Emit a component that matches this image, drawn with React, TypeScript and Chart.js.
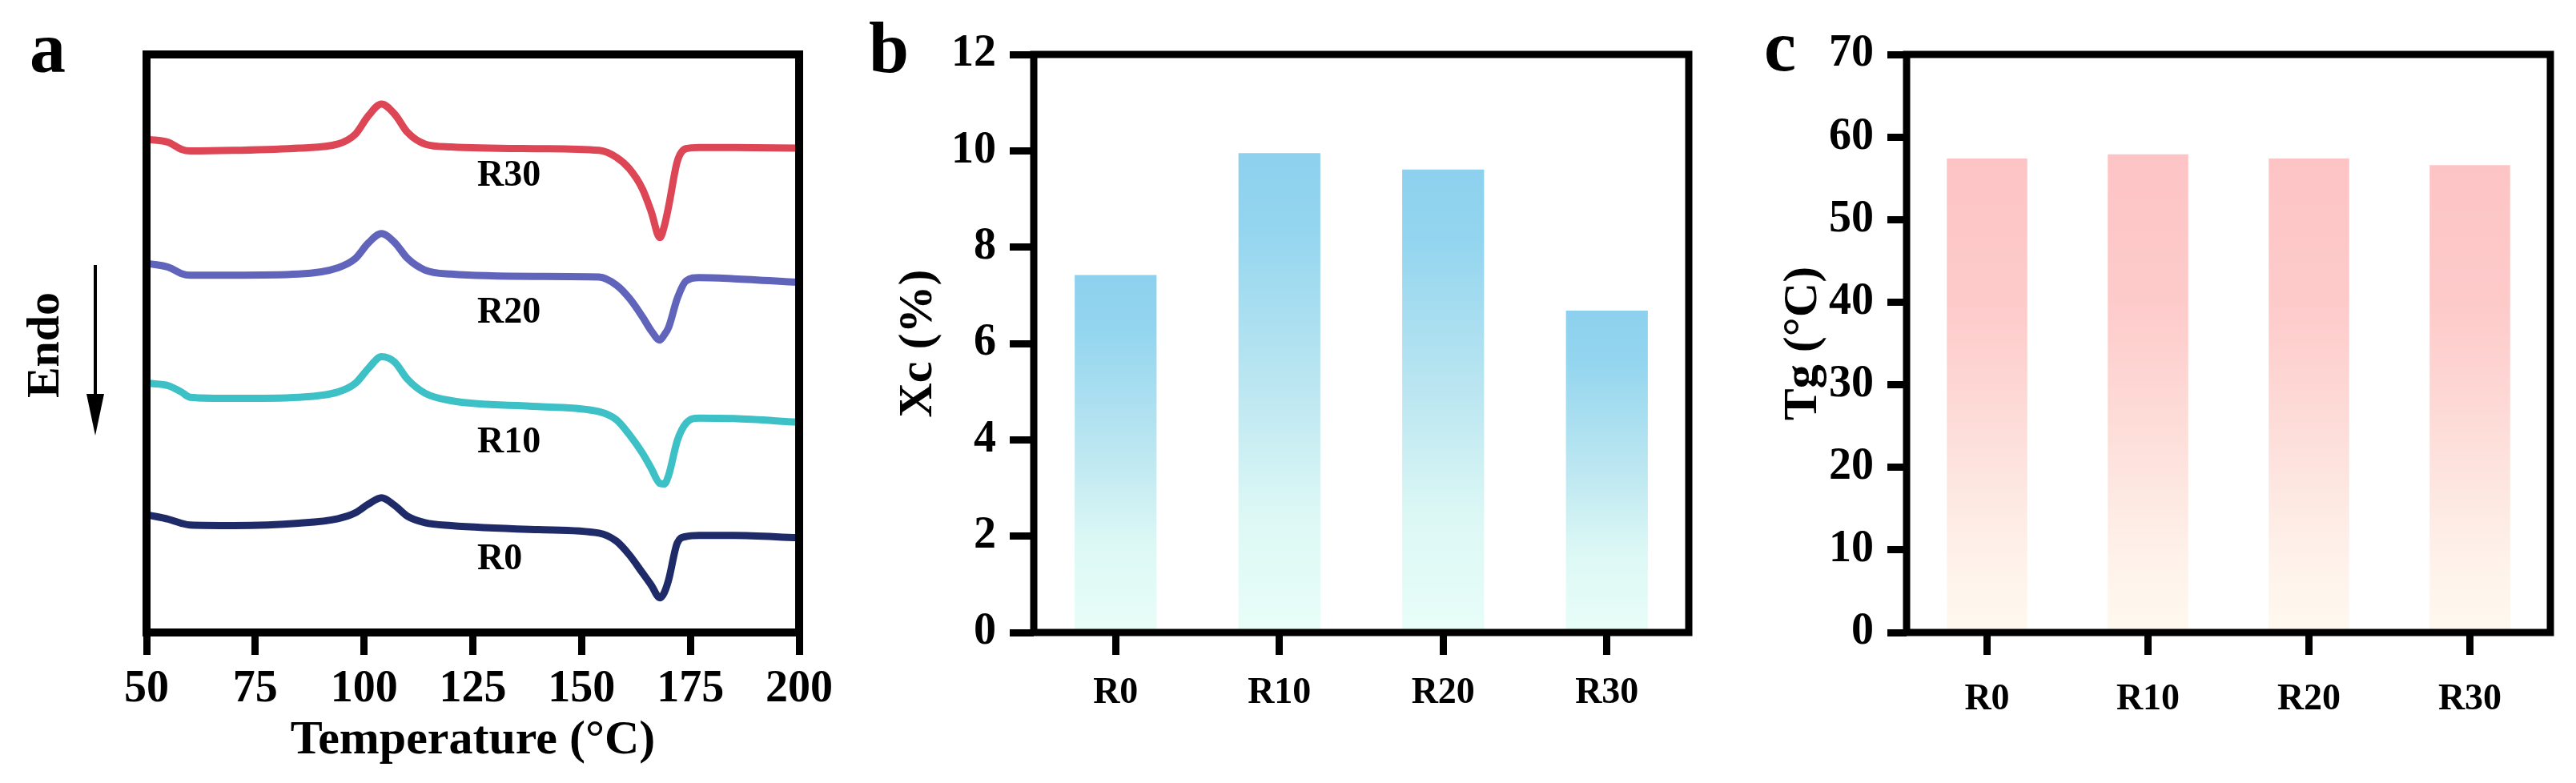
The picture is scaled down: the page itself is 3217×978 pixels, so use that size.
import React, { useEffect, useRef } from "react";
import { Chart, registerables } from "chart.js";

Chart.register(...registerables);

const FONT = '"Liberation Serif", "Times New Roman", Times, serif';

// ---------- Panel a : DSC curves ----------
const temperatures = [50.5, 55, 58, 60, 70, 85, 94, 98, 101, 104, 107, 110, 114, 120, 140, 154, 158, 161, 164, 166, 168, 169, 170, 172, 174, 177, 185, 199.5];
const heatFlowR30 = [85.3, 84.8, 83.6, 83.3, 83.4, 83.8, 84.5, 86.2, 89.4, 91.4, 89.7, 86.5, 84.5, 84.0, 83.7, 83.4, 82.2, 80.2, 76.7, 72.8, 68.3, 70.3, 73.7, 81.5, 83.7, 83.9, 83.9, 83.8];
const heatFlowR20 = [63.8, 63.2, 62.1, 61.8, 61.8, 62.0, 63.1, 64.7, 67.4, 69.0, 67.5, 64.7, 62.7, 62.0, 61.6, 61.5, 60.1, 57.8, 54.6, 52.2, 50.6, 51.5, 52.8, 57.8, 60.8, 61.4, 61.2, 60.6];
const heatFlowR10 = [43.1, 42.7, 41.6, 40.7, 40.5, 40.7, 41.6, 43.1, 45.7, 47.7, 46.8, 43.8, 41.4, 40.1, 39.1, 38.2, 36.8, 34.2, 31.0, 28.4, 25.8, 25.7, 27.2, 33.2, 36.2, 37.1, 37.0, 36.4];
const heatFlowR0 = [20.3, 19.6, 18.9, 18.6, 18.5, 18.9, 19.7, 20.7, 22.2, 23.3, 22.0, 20.1, 19.0, 18.5, 17.8, 17.2, 15.8, 13.4, 10.3, 8.2, 6.0, 6.9, 9.1, 15.5, 16.6, 16.8, 16.8, 16.4];
const curveNames = ["R30", "R20", "R10", "R0"];
const curveColors = ["#dc4655", "#6064ba", "#3dc0c6", "#1f2b68"];
const curveLabelTemp = 126;
const curveLabelLevel = [79.0, 55.2, 32.8, 12.6];
const tempMin = 50;
const tempMax = 200;
const tempStep = 25;

// ---------- Panel b : crystallinity ----------
const samples = ["R0", "R10", "R20", "R30"];
const crystallinity = [7.42, 9.95, 9.61, 6.68];
const xcMax = 12;
const xcStep = 2;

// ---------- Panel c : glass transition ----------
const glassTransition = [57.4, 57.9, 57.4, 56.6];
const tgMax = 70;
const tgStep = 10;

const blueStops: [number, string][] = [
  [0, "#8dd1ee"],
  [0.15, "#93d5ef"],
  [0.5, "#bde7f1"],
  [0.75, "#dcf8f5"],
  [1, "#e8fdf8"],
];
const pinkStops: [number, string][] = [
  [0, "#fdc4c5"],
  [0.3, "#fdcaca"],
  [0.5, "#fdd8d4"],
  [0.7, "#fde7e1"],
  [0.85, "#fef2ea"],
  [1, "#fef9ef"],
];

const framePlugin = {
  id: "frame",
  afterDraw(chart: any, _args: any, opts: any) {
    const { ctx, chartArea } = chart;
    const { left, top, right, bottom } = chartArea;
    ctx.save();
    ctx.lineWidth = opts.width || 9;
    ctx.strokeStyle = "#000";
    ctx.lineJoin = "miter";
    ctx.strokeRect(left, top, right - left, bottom - top);
    ctx.restore();
  },
};

const panelLetterPlugin = {
  id: "panelLetter",
  afterDraw(chart: any, _args: any, opts: any) {
    if (!opts || !opts.text) return;
    const { ctx } = chart;
    ctx.save();
    ctx.font = `bold ${opts.size}px ${FONT}`;
    ctx.fillStyle = "#000";
    ctx.textAlign = "left";
    ctx.textBaseline = "alphabetic";
    ctx.fillText(opts.text, opts.x, opts.y);
    ctx.restore();
  },
};

const curveLabelPlugin = {
  id: "curveLabels",
  afterDatasetsDraw(chart: any) {
    const { ctx, scales } = chart;
    ctx.save();
    ctx.font = `bold 46px ${FONT}`;
    ctx.fillStyle = "#000";
    ctx.textAlign = "left";
    ctx.textBaseline = "middle";
    curveNames.forEach((name, i) => {
      ctx.fillText(name, scales.x.getPixelForValue(curveLabelTemp), scales.y.getPixelForValue(curveLabelLevel[i]));
    });
    ctx.restore();
  },
};

const endoPlugin = {
  id: "endo",
  afterDraw(chart: any) {
    const { ctx, chartArea } = chart;
    const midY = (chartArea.top + chartArea.bottom) / 2;
    ctx.save();
    ctx.translate(58, midY + 2);
    ctx.rotate(-Math.PI / 2);
    ctx.font = `bold 58px ${FONT}`;
    ctx.fillStyle = "#000";
    ctx.textAlign = "center";
    ctx.textBaseline = "middle";
    ctx.fillText("Endo", 0, 0);
    ctx.restore();
    const ax = 119;
    const y0 = midY - 98;
    const y1 = midY + 115;
    ctx.save();
    ctx.strokeStyle = "#000";
    ctx.fillStyle = "#000";
    ctx.lineWidth = 4;
    ctx.beginPath();
    ctx.moveTo(ax, y0);
    ctx.lineTo(ax, y1 - 40);
    ctx.stroke();
    ctx.beginPath();
    ctx.moveTo(ax - 11, y1 - 52);
    ctx.lineTo(ax + 11, y1 - 52);
    ctx.lineTo(ax, y1);
    ctx.closePath();
    ctx.fill();
    ctx.restore();
  },
};

function gradientFill(stops: [number, string][]) {
  return (c: any) => {
    const chart = c.chart;
    if (c.type !== "data" || !chart.chartArea || !chart.scales.y) return stops[0][1];
    const y = chart.scales.y;
    const top = y.getPixelForValue(c.raw);
    const bottom = y.getPixelForValue(0);
    const g = chart.ctx.createLinearGradient(0, top, 0, bottom);
    stops.forEach(([o, col]) => g.addColorStop(o, col));
    return g;
  };
}

const tickFont = (size: number) => ({ family: FONT, size, weight: "bold" as const });

function makeDSC(canvas: HTMLCanvasElement) {
  const series = [heatFlowR30, heatFlowR20, heatFlowR10, heatFlowR0];
  return new Chart(canvas, {
    type: "line",
    data: {
      datasets: series.map((vals, i) => ({
        label: curveNames[i],
        data: temperatures.map((t, k) => ({ x: t, y: vals[k] })),
        borderColor: curveColors[i],
        borderWidth: 9,
        pointRadius: 0,
        fill: false,
        cubicInterpolationMode: "monotone" as const,
        borderCapStyle: "round" as const,
        borderJoinStyle: "round" as const,
      })),
    },
    options: {
      responsive: false,
      animation: false,
      layout: { padding: { left: 183, right: 45, top: 68, bottom: 0 } },
      plugins: {
        legend: { display: false },
        tooltip: { enabled: false },
        frame: { width: 10 },
        panelLetter: { text: "a", x: 37, y: 90, size: 90 },
      } as any,
      scales: {
        x: {
          type: "linear",
          min: tempMin,
          max: tempMax,
          ticks: { stepSize: tempStep, padding: 10, color: "#000", font: tickFont(56), maxRotation: 0, autoSkip: false },
          grid: { drawOnChartArea: false, tickLength: 28, tickWidth: 9, tickColor: "#000" },
          border: { display: false },
          title: {
            display: true,
            text: "Temperature (°C)",
            color: "#000",
            font: tickFont(60),
            padding: { top: 0, bottom: 17 },
          },
          afterFit: (s: any) => {
            s.height = 188;
          },
        },
        y: { min: 0, max: 100, display: false },
      },
    },
    plugins: [framePlugin, panelLetterPlugin, curveLabelPlugin, endoPlugin],
  });
}

function makeBars(
  canvas: HTMLCanvasElement,
  values: number[],
  stops: [number, string][],
  opts: { max: number; step: number; title: string; letter: string; letterX: number; letterY: number; yWidth: number; titlePad: number; rightPad: number; yTick: number; xPad: number }
) {
  return new Chart(canvas, {
    type: "bar",
    data: {
      labels: samples,
      datasets: [
        {
          data: values,
          backgroundColor: gradientFill(stops),
          barPercentage: 0.5,
          categoryPercentage: 1,
          borderWidth: 0,
        },
      ],
    },
    options: {
      responsive: false,
      animation: false,
      layout: { padding: { left: 0, right: opts.rightPad, top: 68, bottom: 0 } },
      plugins: {
        legend: { display: false },
        tooltip: { enabled: false },
        frame: { width: 9 },
        panelLetter: { text: opts.letter, x: opts.letterX, y: opts.letterY, size: 90 },
      } as any,
      scales: {
        x: {
          grid: { offset: false, drawOnChartArea: false, tickLength: 28, tickWidth: 9, tickColor: "#000" },
          border: { display: false },
          ticks: { padding: opts.xPad, color: "#000", font: tickFont(46), maxRotation: 0 },
          afterFit: (s: any) => {
            s.height = 188;
          },
        },
        y: {
          min: 0,
          max: opts.max,
          ticks: { stepSize: opts.step, padding: 17, color: "#000", font: tickFont(56) },
          grid: { drawOnChartArea: false, tickLength: opts.yTick, tickWidth: 9, tickColor: "#000" },
          border: { display: false },
          title: {
            display: true,
            text: opts.title,
            color: "#000",
            font: tickFont(60),
            padding: { top: opts.titlePad, bottom: 0 },
          },
          afterFit: (s: any) => {
            s.width = opts.yWidth;
          },
        },
      },
    },
    plugins: [framePlugin, panelLetterPlugin],
  });
}

export default function App() {
  const aRef = useRef<HTMLCanvasElement>(null);
  const bRef = useRef<HTMLCanvasElement>(null);
  const cRef = useRef<HTMLCanvasElement>(null);

  useEffect(() => {
    const charts: Chart[] = [];
    if (aRef.current) charts.push(makeDSC(aRef.current));
    if (bRef.current)
      charts.push(
        makeBars(bRef.current, crystallinity, blueStops, {
          max: xcMax,
          step: xcStep,
          title: "Xc (%)",
          letter: "b",
          letterX: 35,
          letterY: 90,
          yWidth: 241,
          titlePad: 61,
          rightPad: 51,
          yTick: 30,
          xPad: 21,
        })
      );
    if (cRef.current)
      charts.push(
        makeBars(cRef.current, glassTransition, pinkStops, {
          max: tgMax,
          step: tgStep,
          title: "Tg (°C)",
          letter: "c",
          letterX: 43,
          letterY: 88,
          yWidth: 221,
          titlePad: 56,
          rightPad: 32,
          yTick: 24,
          xPad: 29,
        })
      );
    return () => charts.forEach((c) => c.destroy());
  }, []);

  const cv = (left: number, width: number): React.CSSProperties => ({
    position: "absolute",
    left,
    top: 0,
    width,
    height: 978,
  });

  return (
    <div style={{ position: "absolute", left: 0, top: 0, width: 3217, height: 978, background: "#fff", overflow: "hidden" }}>
      <canvas ref={aRef} width={1050} height={978} style={cv(0, 1050)} />
      <canvas ref={bRef} width={1110} height={978} style={cv(1050, 1110)} />
      <canvas ref={cRef} width={1057} height={978} style={cv(2160, 1057)} />
    </div>
  );
}
